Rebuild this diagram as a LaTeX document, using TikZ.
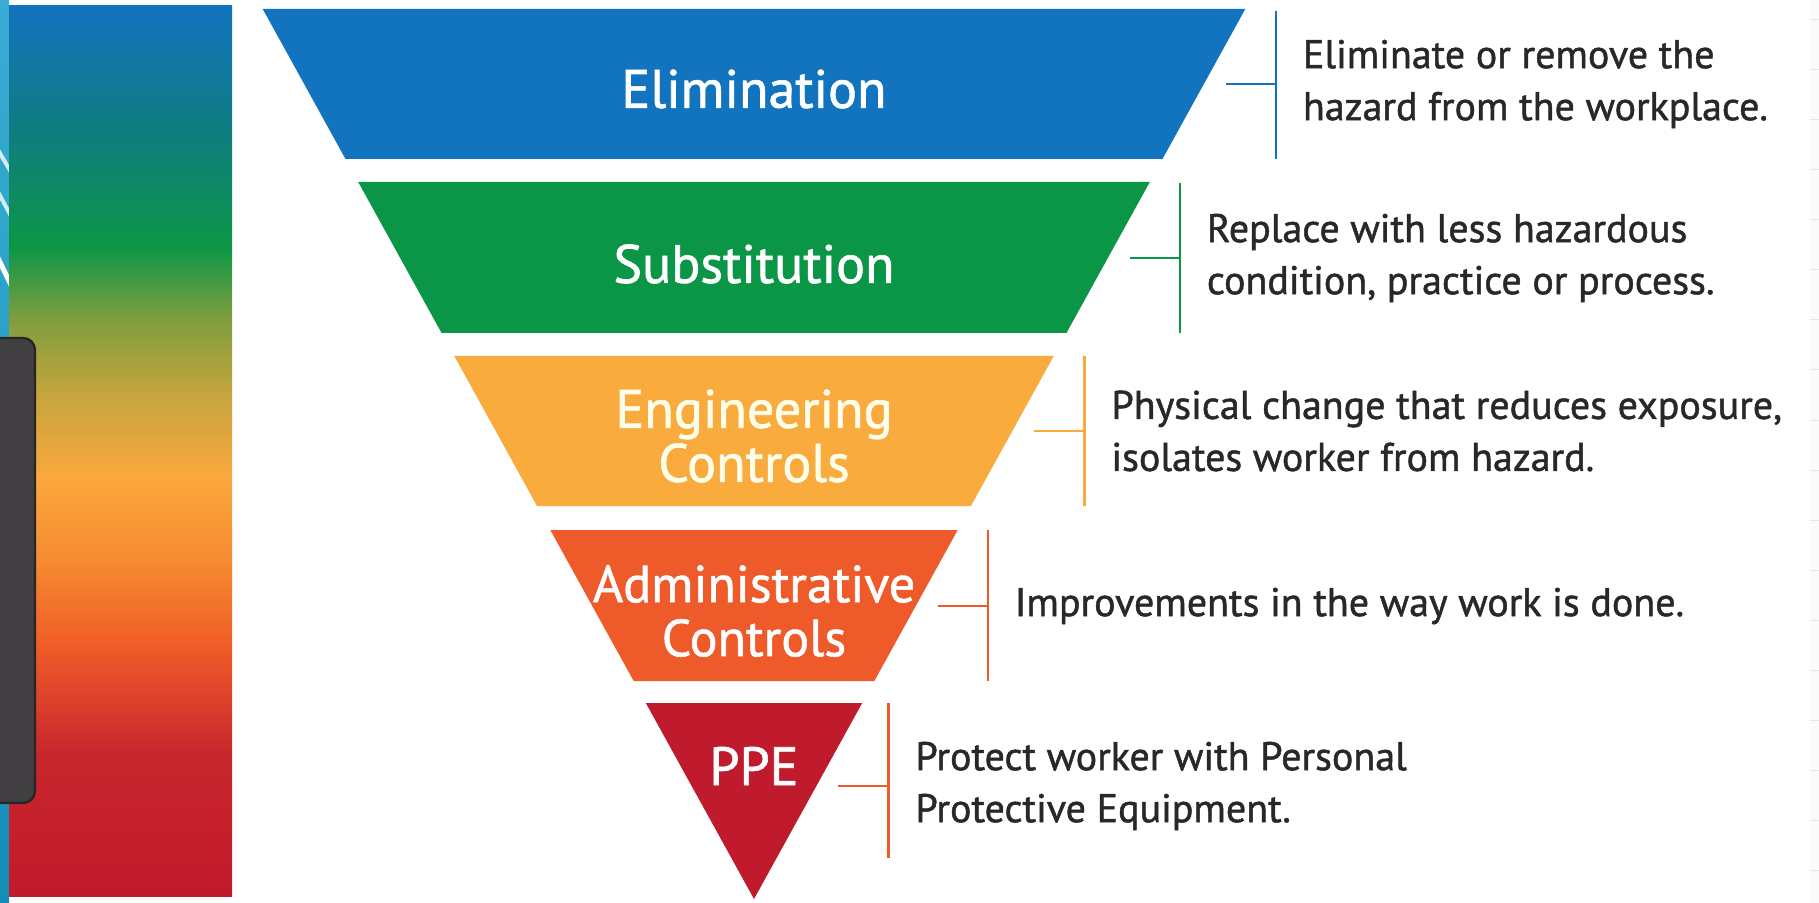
\documentclass[tikz,border=0pt]{standalone}
\usepackage{fontspec}
\setmainfont{PT Sans}
\newfontfamily\medfont{PT Sans}[FakeBold=1.2]
\usetikzlibrary{calc,positioning}

\definecolor{elimblue}{RGB}{18,116,190}
\definecolor{substgreen}{RGB}{10,150,70}
\definecolor{engorange}{RGB}{249,172,61}
\definecolor{adminorange}{RGB}{238,90,42}
\definecolor{ppered}{RGB}{192,27,44}
\definecolor{desctext}{RGB}{40,40,40}
\definecolor{stripblue}{RGB}{22,158,204}
\definecolor{darkpanel}{RGB}{66,63,66}

% Farbverlauf fuer den Balken links
\definecolor{g0}{RGB}{18,115,190}
\definecolor{g1}{RGB}{16,125,128}
\definecolor{g2}{RGB}{12,150,70}
\definecolor{g3}{RGB}{125,158,62}
\definecolor{g4}{RGB}{200,165,62}
\definecolor{g5}{RGB}{250,168,60}
\definecolor{g6}{RGB}{246,140,50}
\definecolor{g7}{RGB}{240,92,40}
\definecolor{g8}{RGB}{200,38,45}
\definecolor{g9}{RGB}{192,27,44}
\pgfdeclareverticalshading{hazardbar}{100bp}{color(0bp)=(g9); color(25bp)=(g9);
  color(33bp)=(g8); color(39bp)=(g7); color(44bp)=(g6); color(48.5bp)=(g5);
  color(53bp)=(g4); color(57.5bp)=(g3); color(61.5bp)=(g2); color(68bp)=(g1);
  color(75bp)=(g0); color(100bp)=(g0)}

\begin{document}
\begin{tikzpicture}[x=0.5pt,y=-0.5pt,
    declare function={hw(\t)=0.552*(899-\t);},
    bandtitle/.style={text=white, align=center, font=\medfont\fontsize{27}{27}\selectfont},
    desc/.style={text=desctext, align=left, font=\medfont\fontsize{20}{26}\selectfont},
    bracket/.style={line width=1.2pt}]
		% Rahmen und Hintergrund
		\useasboundingbox (0,0) rectangle (1819,903);
		\fill[white] (0,0) rectangle (1819,903);
		\fill[black!2] (1810,0) rectangle (1819,903);
		\foreach \y in {20,70,...,900}
		\draw[black!10,line width=0.5pt] (1810,\y) -- (1819,\y);
		
		% Streifen links mit hellen Schraegen
		\shade[top color=stripblue!85!white, bottom color=stripblue!90!black] (0,0) rectangle (9,903);
		\begin{scope}
			\clip (0,0) rectangle (9,903);
			\draw[white!80!stripblue,line width=2pt] (-2,150) -- (11,172);
			\draw[white!80!stripblue,line width=2pt] (-2,192) -- (11,216);
			\draw[white,line width=2.5pt] (-2,258) -- (11,285);
		\end{scope}
		
		% Farbbalken
		\shade[shading=hazardbar] (9,6) rectangle (232,896);
		\draw[fill=darkpanel,draw=black!85,line width=1.2pt,rounded corners=6]
		(-10,338) rectangle (35,803);
		
		% Elimination
		\fill[elimblue] ({754-hw(9)},9) -- ({754+hw(9)},9) -- ({754+hw(159)},159) -- ({754-hw(159)},159) -- cycle;
		\node[bandtitle] (elim) at (754,89) {Elimination};
		\coordinate (elim-tick) at ({754+hw(84)+22},84);
		\coordinate (elim-bar) at ({754+hw(84)+72},84);
		\draw[bracket,elimblue] ($(elim-bar)+(0,-73)$) -- ($(elim-bar)+(0,75)$);
		\draw[bracket,elimblue] (elim-tick) -- (elim-bar);
		\node[desc,right=10pt of elim-bar] (elim-desc) {Eliminate or remove the\\hazard from the workplace.};
		
		% Substitution
		\fill[substgreen] ({754-hw(182)},182) -- ({754+hw(182)},182) -- ({754+hw(333)},333) -- ({754-hw(333)},333) -- cycle;
		\node[bandtitle] (subst) at (754,264) {Substitution};
		\coordinate (subst-tick) at ({754+hw(258)+22},258);
		\coordinate (subst-bar) at ({754+hw(258)+72},258);
		\draw[bracket,substgreen] ($(subst-bar)+(0,-75)$) -- ($(subst-bar)+(0,75)$);
		\draw[bracket,substgreen] (subst-tick) -- (subst-bar);
		\node[desc,right=10pt of subst-bar] (subst-desc) {Replace with less hazardous\\condition, practice or process.};
		
		% Engineering Controls
		\fill[engorange] ({754-hw(356)},356) -- ({754+hw(356)},356) -- ({754+hw(506)},506) -- ({754-hw(506)},506) -- cycle;
		\node[bandtitle,text=white!92!yellow] (eng) at (754,436) {Engineering\\Controls};
		\coordinate (eng-tick) at ({754+hw(431)+22},431);
		\coordinate (eng-bar) at ({754+hw(431)+72},431);
		\draw[bracket,engorange] ($(eng-bar)+(0,-75)$) -- ($(eng-bar)+(0,75)$);
		\draw[bracket,engorange] (eng-tick) -- (eng-bar);
		\node[desc,right=10pt of eng-bar] (eng-desc) {Physical change that reduces exposure,\\isolates worker from hazard.};
		
		% Administrative Controls
		\fill[adminorange] ({754-hw(530)},530) -- ({754+hw(530)},530) -- ({754+hw(681)},681) -- ({754-hw(681)},681) -- cycle;
		\node[bandtitle,font=\medfont\fontsize{26}{27}\selectfont] (admin) at (754,611) {Administrative\\Controls};
		\coordinate (admin-tick) at ({754+hw(606)+22},606);
		\coordinate (admin-bar) at ({754+hw(606)+72},606);
		\draw[bracket,adminorange] ($(admin-bar)+(0,-76)$) -- ($(admin-bar)+(0,75)$);
		\draw[bracket,adminorange] (admin-tick) -- (admin-bar);
		\node[desc,right=10pt of admin-bar] (admin-desc) {Improvements in the way work is done.};
		
		% PPE (Spitze)
		\fill[ppered] ({754-hw(703)},703) -- ({754+hw(703)},703) -- (754,899) -- cycle;
		\node[bandtitle] (ppe) at (754,766) {PPE};
		\coordinate (ppe-tick) at ({754+hw(786)+22},786);
		\coordinate (ppe-bar) at ({754+hw(786)+72},786);
		\draw[bracket,adminorange] ($(ppe-bar)+(0,-83)$) -- ($(ppe-bar)+(0,72)$);
		\draw[bracket,adminorange] (ppe-tick) -- (ppe-bar);
		\node[desc,right=10pt of ppe-bar] (ppe-desc) {Protect worker with Personal\\Protective Equipment.};
		
	\end{tikzpicture}
\end{document}
